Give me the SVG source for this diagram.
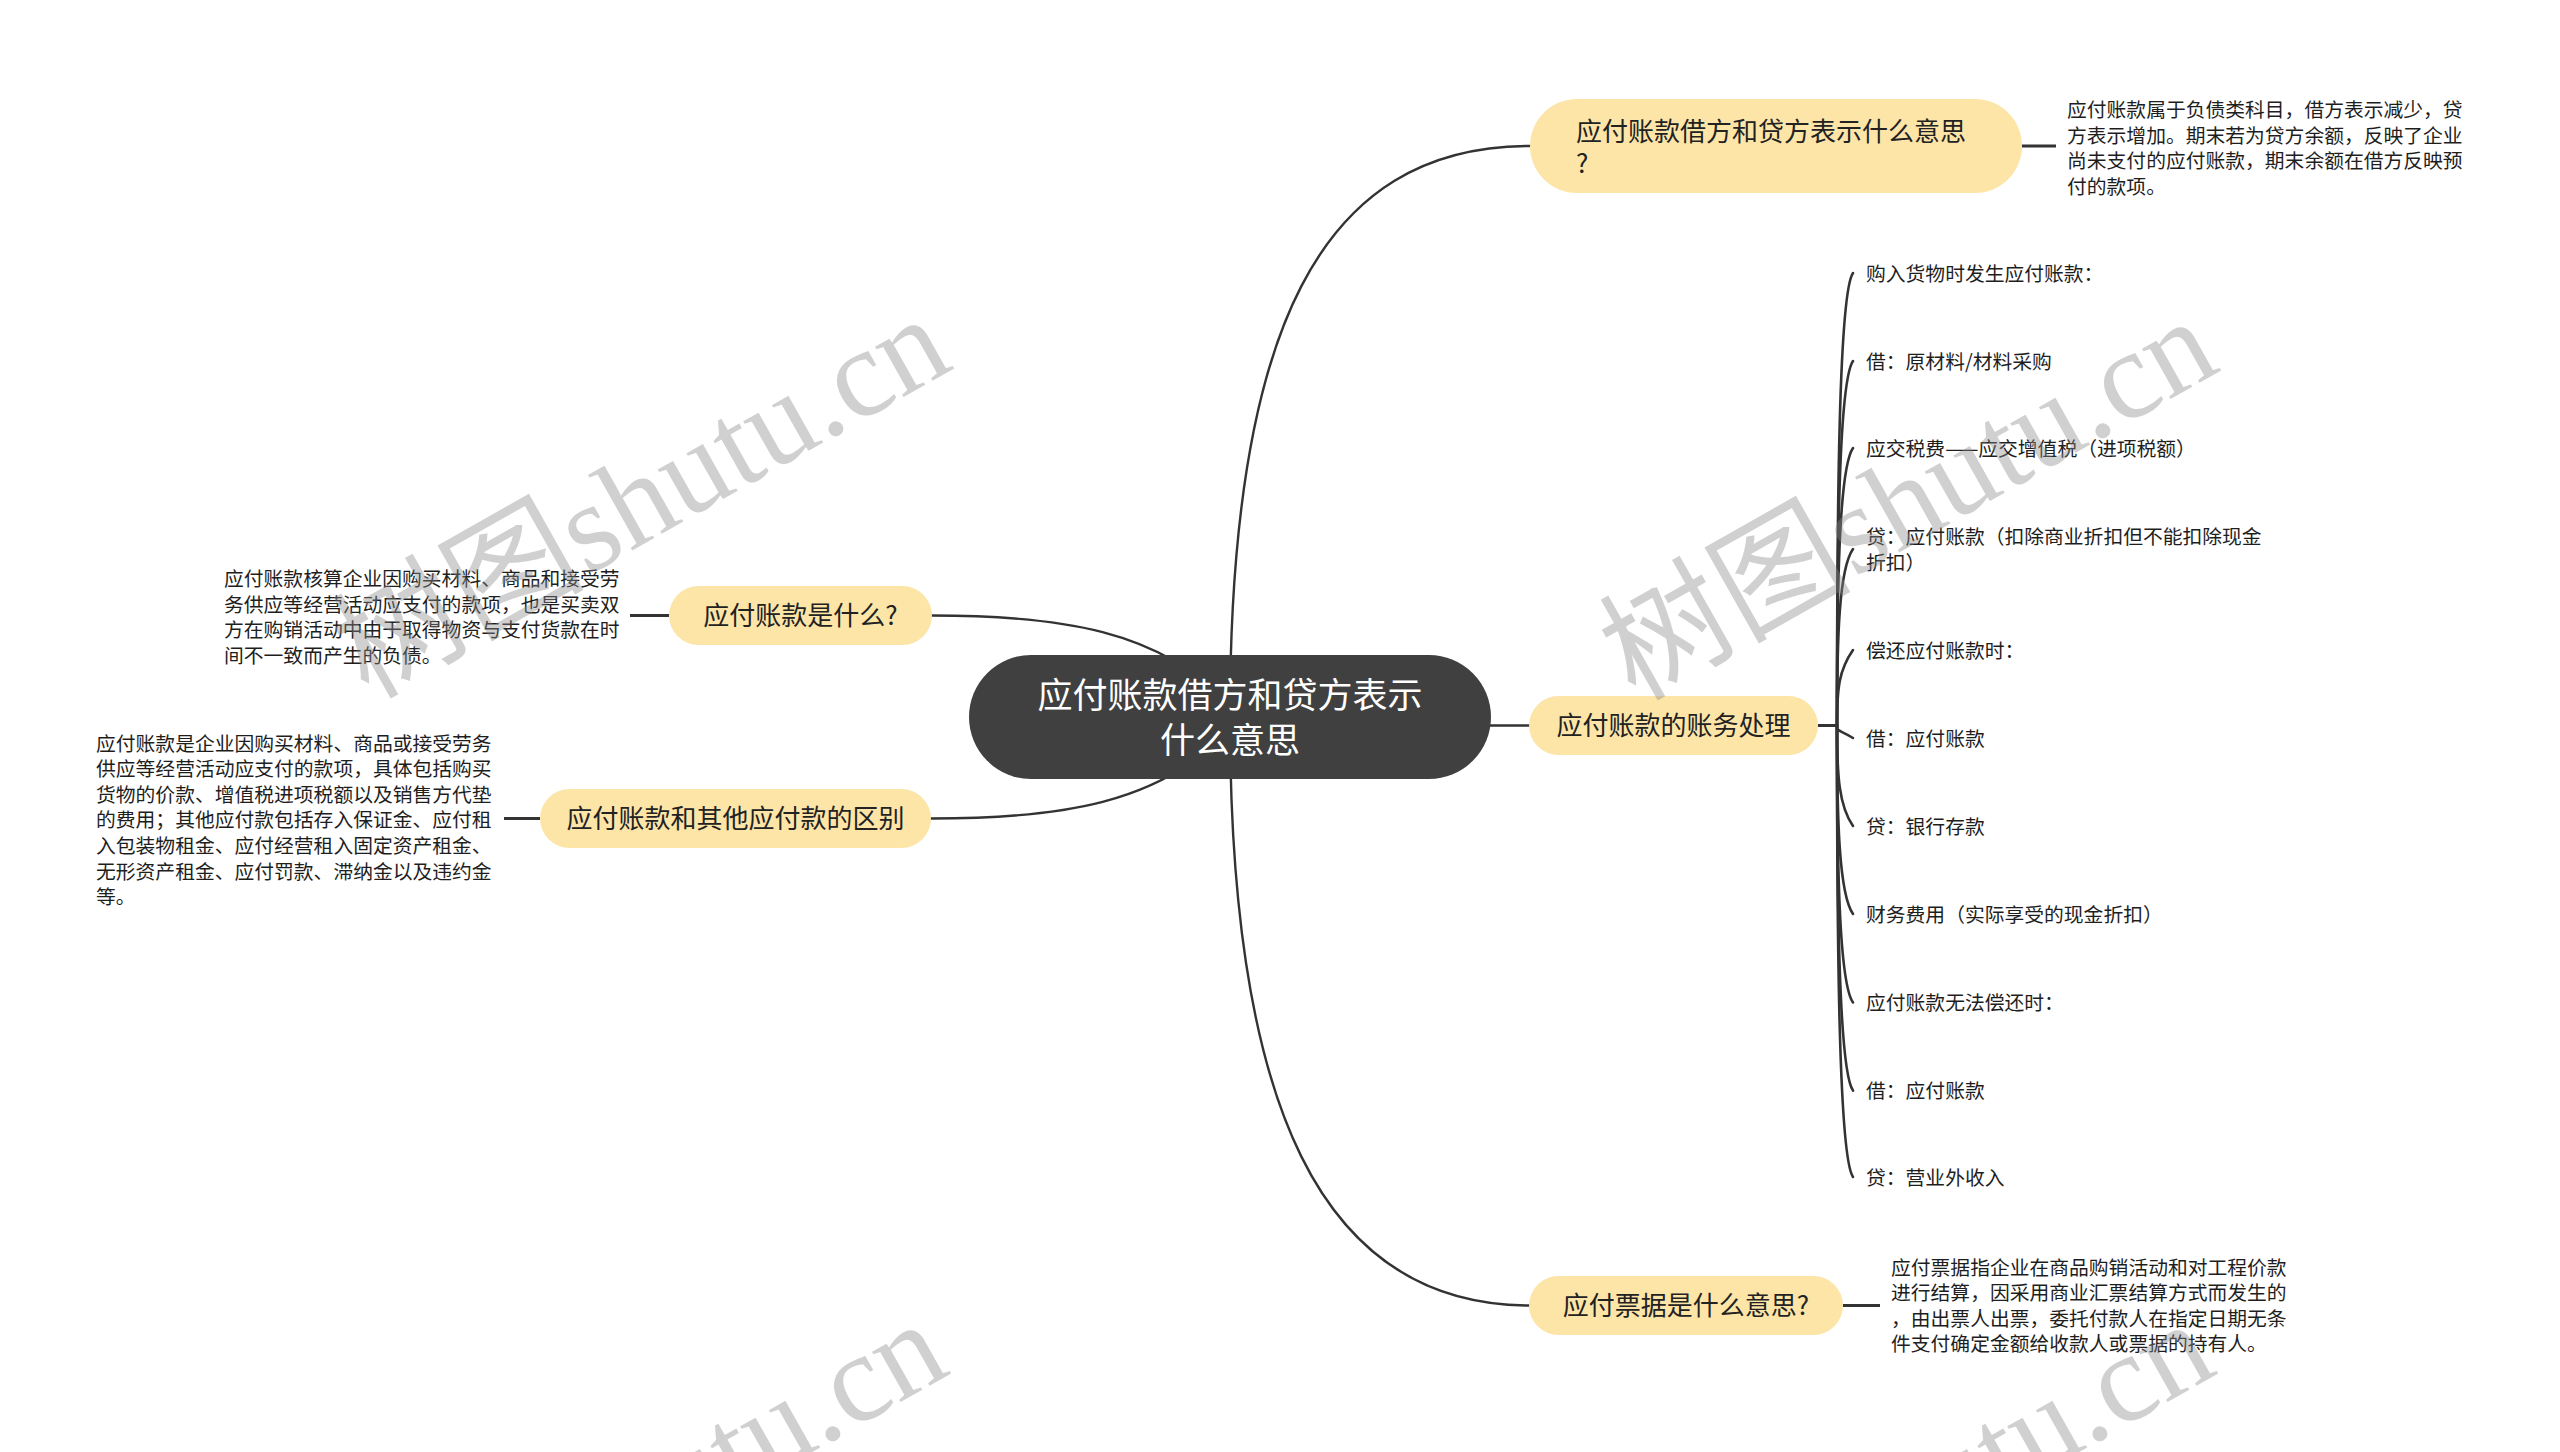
<svg xmlns="http://www.w3.org/2000/svg" width="2560" height="1452" viewBox="0 0 2560 1452">
<style>
text{font-family:"Noto Sans CJK SC","Noto Sans",sans-serif}
.conn{fill:none;stroke:#333;stroke-width:2.4;stroke-linecap:round}
.stub{fill:none;stroke:#333;stroke-width:3}
.br{fill:none;stroke:#333;stroke-width:2.6;stroke-linecap:round}
.main{fill:#fde5a8}
.mt{font-size:26px;fill:#222}
.ds{font-size:19.8px;fill:#1e1e1e}
.ct{font-size:35px;fill:#fff;text-anchor:middle}
.wm{font-family:"Liberation Serif","Noto Sans CJK SC",serif;font-size:126px;fill:#8a8a8a;fill-opacity:0.4}
</style>
<rect width="2560" height="1452" fill="#fff"/>
<g id="connectors">
<path class="conn" d="M1230,717 C1230,330 1320,146 1530,146"/>
<path class="conn" d="M1230,717 C1230,1104 1320,1305.5 1530,1305.5"/>
<path class="conn" d="M1480,725.5 L1530,725.5"/>
<path class="conn" d="M931,615.5 C1060,615.5 1160,630 1230,705"/>
<path class="conn" d="M931,818.5 C1060,818.5 1160,804 1230,729"/>
<path class="stub" d="M2022,146 L2056,146"/>
<path class="stub" d="M630,615.5 L669,615.5"/>
<path class="stub" d="M504,818.5 L540,818.5"/>
<path class="stub" d="M1843,1305.5 L1880,1305.5"/>
<path class="stub" d="M1818,725.5 L1838,725.5"/>
<path class="br" d="M1837,725.5 C1837,499 1839,293 1853,273"/>
<path class="br" d="M1837,725.5 C1837,543 1839,381 1853,361"/>
<path class="br" d="M1837,725.5 C1837,587 1839,468 1853,448"/>
<path class="br" d="M1837,725.5 C1837,637 1839,569 1853,549"/>
<path class="br" d="M1837,725.5 C1837,688 1839,670 1853,650"/>
<path class="br" d="M1837,725.5 C1837,732 1839,729.3 1853,738"/>
<path class="br" d="M1837,725.5 C1837,776 1839,806 1853,826"/>
<path class="br" d="M1837,725.5 C1837,820 1839,894 1853,914"/>
<path class="br" d="M1837,725.5 C1837,864 1839,982.5 1853,1002.5"/>
<path class="br" d="M1837,725.5 C1837,908 1839,1070.6 1853,1090.6"/>
<path class="br" d="M1837,725.5 C1837,951 1839,1157 1853,1177"/>
</g>
<g id="center">
<rect x="969" y="655" width="522" height="124" rx="62" fill="#404040"/>
<text class="ct" x="1230" y="708">应付账款借方和贷方表示</text>
<text class="ct" x="1230" y="753">什么意思</text>
</g>
<g id="node-debit-credit">
<rect class="main" x="1530" y="99" width="492" height="94" rx="47"/>
<text class="mt" x="1576" y="141">应付账款借方和贷方表示什么意思</text>
<text class="mt" x="1576" y="173">?</text>
</g>
<g id="desc-debit-credit">
<text class="ds" x="2067" y="117">应付账款属于负债类科目，借方表示减少，贷</text>
<text class="ds" x="2067" y="142.5">方表示增加。期末若为贷方余额，反映了企业</text>
<text class="ds" x="2067" y="168">尚未支付的应付账款，期末余额在借方反映预</text>
<text class="ds" x="2067" y="193.5">付的款项。</text>
</g>
<g id="node-what">
<rect class="main" x="669" y="586" width="263" height="59" rx="29.5"/>
<text class="mt" x="800.5" y="625.4" text-anchor="middle">应付账款是什么?</text>
</g>
<g id="desc-what">
<text class="ds" x="224" y="586">应付账款核算企业因购买材料、商品和接受劳</text>
<text class="ds" x="224" y="611.5">务供应等经营活动应支付的款项，也是买卖双</text>
<text class="ds" x="224" y="637">方在购销活动中由于取得物资与支付货款在时</text>
<text class="ds" x="224" y="662.5">间不一致而产生的负债。</text>
</g>
<g id="node-diff">
<rect class="main" x="540" y="789" width="391" height="59" rx="29.5"/>
<text class="mt" x="735.5" y="828.4" text-anchor="middle">应付账款和其他应付款的区别</text>
</g>
<g id="desc-diff">
<text class="ds" x="96" y="750.6">应付账款是企业因购买材料、商品或接受劳务</text>
<text class="ds" x="96" y="776.2">供应等经营活动应支付的款项，具体包括购买</text>
<text class="ds" x="96" y="801.8">货物的价款、增值税进项税额以及销售方代垫</text>
<text class="ds" x="96" y="827.4">的费用；其他应付款包括存入保证金、应付租</text>
<text class="ds" x="96" y="853">入包装物租金、应付经营租入固定资产租金、</text>
<text class="ds" x="96" y="878.6">无形资产租金、应付罚款、滞纳金以及违约金</text>
<text class="ds" x="96" y="904.2">等。</text>
</g>
<g id="node-accounting">
<rect class="main" x="1529" y="696" width="289" height="59" rx="29.5"/>
<text class="mt" x="1673.5" y="735.4" text-anchor="middle">应付账款的账务处理</text>
</g>
<g id="items-accounting">
<text class="ds" x="1866" y="280.6">购入货物时发生应付账款：</text>
<text class="ds" x="1866" y="368.6">借：原材料/材料采购</text>
<text class="ds" x="1866" y="455.6">应交税费——应交增值税（进项税额）</text>
<text class="ds" x="1866" y="544">贷：应付账款（扣除商业折扣但不能扣除现金</text>
<text class="ds" x="1866" y="569.6">折扣）</text>
<text class="ds" x="1866" y="657.6">偿还应付账款时：</text>
<text class="ds" x="1866" y="745.6">借：应付账款</text>
<text class="ds" x="1866" y="833.6">贷：银行存款</text>
<text class="ds" x="1866" y="921.6">财务费用（实际享受的现金折扣）</text>
<text class="ds" x="1866" y="1010">应付账款无法偿还时：</text>
<text class="ds" x="1866" y="1098">借：应付账款</text>
<text class="ds" x="1866" y="1185">贷：营业外收入</text>
</g>
<g id="node-notes">
<rect class="main" x="1529" y="1276" width="314" height="59" rx="29.5"/>
<text class="mt" x="1686" y="1315.4" text-anchor="middle">应付票据是什么意思?</text>
</g>
<g id="desc-notes">
<text class="ds" x="1891" y="1274.6">应付票据指企业在商品购销活动和对工程价款</text>
<text class="ds" x="1891" y="1300.2">进行结算，因采用商业汇票结算方式而发生的</text>
<text class="ds" x="1891" y="1325.8">，由出票人出票，委托付款人在指定日期无条</text>
<text class="ds" x="1891" y="1351.4">件支付确定金额给收款人或票据的持有人。</text>
</g>
<g id="watermarks">
<text class="wm" transform="translate(368,700) rotate(-29.5)">树图shutu.cn</text>
<text class="wm" transform="translate(1635,702) rotate(-29.5)">树图shutu.cn</text>
<text class="wm" transform="translate(365,1705) rotate(-29.5)">树图shutu.cn</text>
<text class="wm" transform="translate(1632,1705) rotate(-29.5)">树图shutu.cn</text>
</g>
</svg>
